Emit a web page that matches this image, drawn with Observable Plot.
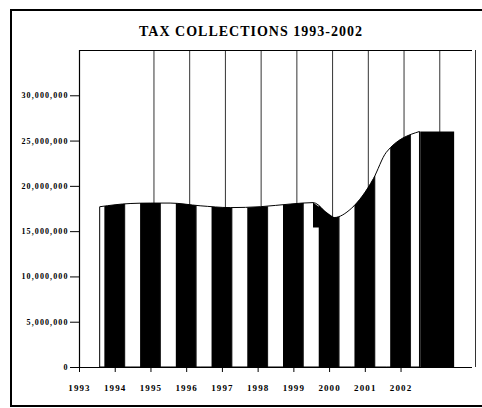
<!DOCTYPE html>
<html>
<head>
<meta charset="utf-8">
<script src="https://cdn.jsdelivr.net/npm/d3@7"></script>
<script src="https://cdn.jsdelivr.net/npm/@observablehq/plot@0.6"></script>
<style>
  html, body { margin: 0; padding: 0; background: #fff; }
  #wrap { position: relative; width: 482px; height: 408px; overflow: hidden; }
  #border { position: absolute; left: 10px; top: 9px; width: 500px; height: 394px; border: 2.5px solid #000; box-sizing: content-box; }
  #title { position: absolute; left: 0; width: 502px; top: 25px; text-align: center;
           font: bold 14px "Liberation Serif", serif; letter-spacing: 1px; line-height: 1; color: #000; }
  #chart { position: absolute; left: 0; top: 0; }
</style>
</head>
<body>
<div id="wrap">
  <div id="border"></div>
  <div id="title">TAX COLLECTIONS 1993-2002</div>
  <div id="chart"></div>
</div>
<script>
// ---- data ----
const years = [1993.59, 1994.43, 1995.0, 1995.55, 1996.39, 1997.24, 1998.08, 1998.93, 1999.55, 2000.14, 2000.62, 2001.24, 2001.6, 2002.53];
const collections = [17.7e6, 18.05e6, 18.1e6, 18.1e6, 17.8e6, 17.6e6, 17.7e6, 18.0e6, 18.15e6, 16.5e6, 17.5e6, 20.8e6, 23.7e6, 26.0e6];
const capYears = [1999.55, 2000.14];
const capTop = [18.15e6, 16.5e6];
const capBottom = [15.4e6, 15.4e6];
const blockStart = [2002.55];
const blockEnd = [2003.5];
const blockValue = [26.0e6];
const tickYears = [1993, 1994, 1995, 1996, 1997, 1998, 1999, 2000, 2001, 2002];
const gridYears = [1995, 1996, 1997, 1998, 1999, 2000, 2001, 2002, 2003, 2004];
const yTicks = [0, 5e6, 10e6, 15e6, 20e6, 25e6, 30e6];

const series = years.map((x, i) => ({x, y: collections[i]}));
const cap = capYears.map((x, i) => ({x, y1: capBottom[i], y2: capTop[i]}));
const block = blockStart.map((x1, i) => ({x1, x2: blockEnd[i], y: blockValue[i]}));

const plot = Plot.plot({
  width: 482,
  height: 408,
  marginLeft: 79,
  marginRight: 10,
  marginTop: 50,
  marginBottom: 41,
  x: {domain: [1993, 2004]},
  y: {domain: [0, 35e6]},
  style: {fontFamily: "'Liberation Serif', serif", fontWeight: "bold", color: "#000", background: "transparent"},
  marks: [
    Plot.ruleX(gridYears, {x: d => d, dx: 3, stroke: "#000", strokeWidth: 1, strokeOpacity: 0.8}),
    Plot.ruleY([35e6], {stroke: "#000", strokeWidth: 1.2}),
    Plot.areaY(series, {x: "x", y: "y", curve: "monotone-x", fill: "url(#stripes)", stroke: "#000", strokeWidth: 1}),
    Plot.areaY(cap, {x: "x", y1: "y1", y2: "y2", fill: "#000"}),
    Plot.rect(block, {x1: "x1", x2: "x2", y1: 0, y2: "y", fill: "#000"}),
    Plot.ruleX([1993], {stroke: "#000", strokeWidth: 1.2}),
    Plot.ruleY([0], {stroke: "#000", strokeWidth: 1.2}),
    Plot.axisY({ticks: yTicks, tickFormat: d3.format(","), tickSize: 9, tickPadding: 2, fontSize: 8, label: null, stroke: "#000"}),
    Plot.axisX({ticks: tickYears, tickFormat: d => String(d), tickSize: 5, tickPadding: 12, fontSize: 9, label: null, stroke: "#000"})
  ]
});

// stripe pattern aligned to the x scale: black band centred on each year
const xs = plot.scale("x");
const x0 = xs.apply(1993);
const period = xs.apply(1994) - x0;
const bw = period * 0.58;
const defs = d3.select(plot).insert("defs", ":first-child");
const pat = defs.append("pattern")
  .attr("id", "stripes")
  .attr("patternUnits", "userSpaceOnUse")
  .attr("x", x0 - bw / 2).attr("y", 0)
  .attr("width", period).attr("height", 408);
pat.append("rect").attr("width", period).attr("height", 408).attr("fill", "#fff");
pat.append("rect").attr("width", bw).attr("height", 408).attr("fill", "#000");

d3.select(plot).selectAll("text").style("letter-spacing", "1.1px");
document.getElementById("chart").appendChild(plot);
</script>
</body>
</html>
